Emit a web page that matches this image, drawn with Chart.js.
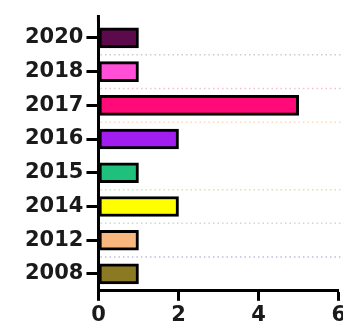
<!DOCTYPE html>
<html>
<head>
<meta charset="utf-8">
<script src="https://cdn.jsdelivr.net/npm/chart.js@4"></script>
<style>
  html, body { margin: 0; padding: 0; background: #fff; overflow: hidden; }
  #wrap { width: 348px; height: 330px; }
</style>
</head>
<body>
<div id="wrap"><canvas id="chart"></canvas></div>
<script>
// data
const years = ['2020', '2018', '2017', '2016', '2015', '2014', '2012', '2008'];
const counts = [1, 1, 5, 2, 1, 2, 1, 1];
const barColors = ['#5c0a4c', '#ff4fd6', '#ff0a78', '#a21ef0', '#1fbf7c', '#ffff00', '#f7b77e', '#8b7a22'];
const xTicks = [0, 2, 4, 6];

// dotted separators between rows (null = none)
const sepColors = ['#cfc8d6', '#f3bcd2', '#f8dcbc', null, '#cde6b4', '#c6dcd2', '#bcbce4'];

const separators = {
    id: 'separators',
    beforeDatasetsDraw(chart) {
        const ctx = chart.ctx;
        const y = chart.scales.y;
        const area = chart.chartArea;
        ctx.save();
        // y axis sticks out a bit above the plot
        ctx.strokeStyle = '#000';
        ctx.lineWidth = 3;
        ctx.beginPath();
        ctx.moveTo(area.left, area.top - 6);
        ctx.lineTo(area.left, area.top + 1);
        ctx.stroke();

        ctx.lineWidth = 1.5;
        ctx.setLineDash([1.5, 3]);
        sepColors.forEach(function(c, i) {
            if (!c) return;
            let py = (y.getPixelForValue(i) + y.getPixelForValue(i + 1)) / 2;
            ctx.strokeStyle = c;
            ctx.beginPath();
            ctx.moveTo(area.left + 2, py);
            ctx.lineTo(chart.width, py);
            ctx.stroke();
        });
        ctx.restore();
    }
};

const font = { family: 'DejaVu Sans', weight: 'bold', size: 21 };

new Chart(document.getElementById('chart'), {
    type: 'bar',
    data: {
        labels: years,
        datasets: [{
            data: counts,
            backgroundColor: barColors,
            borderColor: '#000',
            borderWidth: 3,
            borderSkipped: false,
            barThickness: 20
        }]
    },
    options: {
        indexAxis: 'y',
        responsive: true,
        maintainAspectRatio: false,
        animation: false,
        layout: { padding: { left: 22, top: 21, right: 0, bottom: 0 } },
        plugins: { legend: { display: false }, tooltip: { enabled: false } },
        scales: {
            x: {
                min: 0,
                max: 6,
                afterBuildTicks(axis) { axis.ticks = xTicks.map(v => ({ value: v })); },
                border: { color: '#000', width: 3 },
                grid: { drawOnChartArea: false, tickColor: '#000', tickWidth: 3, tickLength: 10 },
                ticks: { color: '#1a1a1a', font: font, padding: 2 }
            },
            y: {
                border: { color: '#000', width: 3 },
                grid: { offset: false, drawOnChartArea: false, tickColor: '#000', tickWidth: 3, tickLength: 12 },
                ticks: { color: '#1a1a1a', font: font, padding: 3 }
            }
        }
    },
    plugins: [separators]
});
</script>
</body>
</html>
